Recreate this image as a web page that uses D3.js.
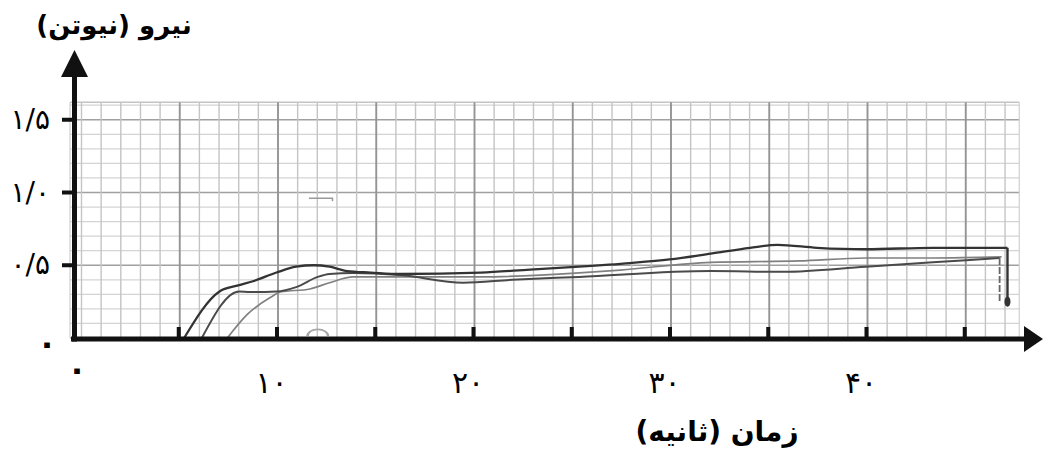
<!DOCTYPE html>
<html lang="fa">
<head>
<meta charset="UTF-8">
<title>نیرو - زمان</title>
<script src="https://cdn.jsdelivr.net/npm/d3@7"></script>
<style>
  body { margin: 0; background: #fff; }
  svg { display: block; font-family: "DejaVu Sans", sans-serif; }
</style>
</head>
<body>
<div id="chart"></div>
<script>
// time in seconds, force in newtons
var curveDark = [
  [5.3, 0], [7.1, 0.32], [8.0, 0.36], [8.8, 0.39], [10.0, 0.45], [11.0, 0.49],
  [11.9, 0.50], [12.7, 0.49], [13.6, 0.46], [14.8, 0.45], [16.3, 0.44],
  [20.4, 0.45], [22.9, 0.47], [25.4, 0.49], [28.0, 0.515], [30.0, 0.54],
  [32.1, 0.58], [34.1, 0.62], [35.5, 0.64], [37.5, 0.62], [40.0, 0.61],
  [43.4, 0.62], [47.2, 0.62]
];
var dropDark = [[47.2, 0.62], [47.2, 0.23]];
var curveMid = [
  [6.2, 0], [8.1, 0.32], [8.65, 0.316], [10.0, 0.32], [11.0, 0.35], [12.1, 0.42],
  [12.7, 0.44], [13.9, 0.447], [16.3, 0.433], [19.5, 0.38], [22.0, 0.40],
  [25.4, 0.42], [32.1, 0.46], [35.8, 0.455], [40.0, 0.49], [43.4, 0.52],
  [46.8, 0.55]
];
var dropMid = [[46.8, 0.55], [46.8, 0.24]];
var curveLight = [
  [7.5, 0], [8.5, 0.16], [9.7, 0.28], [10.2, 0.316], [11.7, 0.337], [12.7, 0.38],
  [13.9, 0.42], [16.3, 0.42], [20.4, 0.42], [25.4, 0.447], [27.5, 0.467],
  [32.1, 0.52], [36.6, 0.53], [40.0, 0.55], [43.4, 0.55], [46.9, 0.557]
];

var xTicks = [10, 20, 30, 40];
var xTickLabels = ["۱۰", "۲۰", "۳۰", "۴۰"];
var yTicks = [0.5, 1.0, 1.5];
var yTickLabels = ["۰/۵", "۱/۰", "۱/۵"];
var xMarks = [5, 10, 15, 20, 25, 30, 35, 40, 45];
var yTitle = "نیرو (نیوتن)";
var xTitle = "زمان (ثانیه)";

var W = 1043, H = 452;

var x = d3.scaleLinear().domain([0, 45]).range([80, 964.25]);
var y = d3.scaleLinear().domain([0, 1.5]).range([338, 119.75]);

var svg = d3.select("#chart").append("svg")
    .attr("width", W)
    .attr("height", H);

// graph paper
var gridLeft = 70, gridRight = x(47.8), gridTop = y(1.62), gridBottom = y(0);
var grid = svg.append("g");

d3.range(0, 1.65, 0.1).forEach(function(v) {
  var major = Math.abs(v * 2 - Math.round(v * 2)) < 1e-6;
  grid.append("line")
    .attr("x1", gridLeft).attr("x2", gridRight)
    .attr("y1", y(v)).attr("y2", y(v))
    .attr("stroke", major ? "#a0a0a0" : "#d4d4d4")
    .attr("stroke-width", major ? 1.6 : 1.2);
});
grid.append("line")
  .attr("x1", gridLeft).attr("x2", gridRight)
  .attr("y1", gridTop).attr("y2", gridTop)
  .attr("stroke", "#c4c4c4").attr("stroke-width", 1.4);

d3.range(0, 48, 1).forEach(function(t) {
  var major = t % 5 === 0 && t > 0;
  grid.append("line")
    .attr("x1", x(t) + 1.5).attr("x2", x(t) + 1.5)
    .attr("y1", gridTop).attr("y2", gridBottom)
    .attr("stroke", major ? "#949494" : "#c4c4c4")
    .attr("stroke-width", major ? 1.9 : 1.4);
});
[gridLeft, gridRight].forEach(function(px) {
  grid.append("line")
    .attr("x1", px).attr("x2", px)
    .attr("y1", gridTop).attr("y2", gridBottom)
    .attr("stroke", "#cfcfcf").attr("stroke-width", 1.2);
});

// stray pencil marks on the scan
svg.append("path")
  .attr("d", "M" + x(11.65) + "," + y(0.96) + "H" + x(12.85) + "v3")
  .attr("fill", "none").attr("stroke", "#9a9a9a").attr("stroke-width", 1.5);
svg.append("path")
  .attr("d", d3.arc()({innerRadius: 9, outerRadius: 11.5, startAngle: -Math.PI / 2, endAngle: Math.PI / 2}))
  .attr("transform", "translate(" + x(12.1) + "," + (y(0) - 2) + ") scale(1,0.65)")
  .attr("fill", "#a8a8a8");

// curves
var smooth = d3.line()
  .x(function(d) { return x(d[0]); })
  .y(function(d) { return y(d[1]); })
  .curve(d3.curveMonotoneX);
var straight = d3.line()
  .x(function(d) { return x(d[0]); })
  .y(function(d) { return y(d[1]); });

svg.append("path").datum(curveLight)
  .attr("fill", "none").attr("stroke", "#808080").attr("stroke-width", 1.7)
  .attr("d", smooth);
svg.append("path").datum(curveMid)
  .attr("fill", "none").attr("stroke", "#4a4a4a").attr("stroke-width", 2)
  .attr("d", smooth);
svg.append("path").datum(dropMid)
  .attr("fill", "none").attr("stroke", "#666").attr("stroke-width", 1.8)
  .attr("stroke-dasharray", "7,2")
  .attr("d", straight);
svg.append("path").datum(curveDark)
  .attr("fill", "none").attr("stroke", "#333").attr("stroke-width", 2.3)
  .attr("d", smooth);
svg.append("path").datum(dropDark)
  .attr("fill", "none").attr("stroke", "#333").attr("stroke-width", 2.4)
  .attr("d", straight);
svg.append("ellipse")
  .attr("cx", x(47.2)).attr("cy", y(0.25))
  .attr("rx", 3).attr("ry", 5)
  .attr("fill", "#333");

// axes
var axisX = 74.5, axisY = 339;
svg.append("line")
  .attr("x1", 71).attr("x2", 1026)
  .attr("y1", axisY).attr("y2", axisY)
  .attr("stroke", "#111").attr("stroke-width", 5);
svg.append("path")
  .attr("d", "M1043," + axisY + "L1024," + (axisY - 13) + "L1024," + (axisY + 13) + "Z")
  .attr("fill", "#111");
svg.append("line")
  .attr("x1", axisX).attr("x2", axisX)
  .attr("y1", axisY + 2.5).attr("y2", 74)
  .attr("stroke", "#111").attr("stroke-width", 5);
svg.append("path")
  .attr("d", "M" + axisX + ",50L" + (axisX - 13.5) + ",77L" + (axisX + 13.5) + ",77Z")
  .attr("fill", "#111");

svg.selectAll(".xmark").data(xMarks).enter().append("rect")
  .attr("x", function(d) { return x(d) - 1.5; })
  .attr("y", axisY - 12)
  .attr("width", 4).attr("height", 12)
  .attr("fill", "#111");

svg.selectAll(".ymark").data(yTicks).enter().append("rect")
  .attr("x", 62).attr("y", function(d) { return y(d) - 2; })
  .attr("width", 13).attr("height", 4)
  .attr("fill", "#111");

// tick labels
svg.selectAll(".xlab").data(xTicks).enter().append("text")
  .attr("x", function(d) { return x(d) - 5; })
  .attr("y", 393)
  .attr("text-anchor", "middle")
  .style("font-size", "30px")
  .text(function(d, i) { return xTickLabels[i]; });
svg.append("text")
  .attr("x", 77).attr("y", 380)
  .attr("text-anchor", "middle")
  .style("font-size", "32px").style("font-weight", "bold")
  .text("۰");

svg.selectAll(".ylab").data(yTicks).enter().append("text")
  .attr("x", 50)
  .attr("y", function(d) { return y(d) + 9; })
  .attr("text-anchor", "end")
  .style("font-size", "28px")
  .text(function(d, i) { return yTickLabels[i]; });
svg.append("text")
  .attr("x", 47).attr("y", y(0) + 16)
  .attr("text-anchor", "middle")
  .style("font-size", "32px").style("font-weight", "bold")
  .text("۰");

// axis titles
svg.append("text")
  .attr("x", 114).attr("y", 34)
  .attr("direction", "rtl")
  .attr("text-anchor", "middle")
  .style("font-size", "26px").style("font-weight", "bold")
  .text(yTitle);
svg.append("text")
  .attr("x", 717).attr("y", 441)
  .attr("direction", "rtl")
  .attr("text-anchor", "middle")
  .style("font-size", "28px").style("font-weight", "bold")
  .text(xTitle);
</script>
</body>
</html>
